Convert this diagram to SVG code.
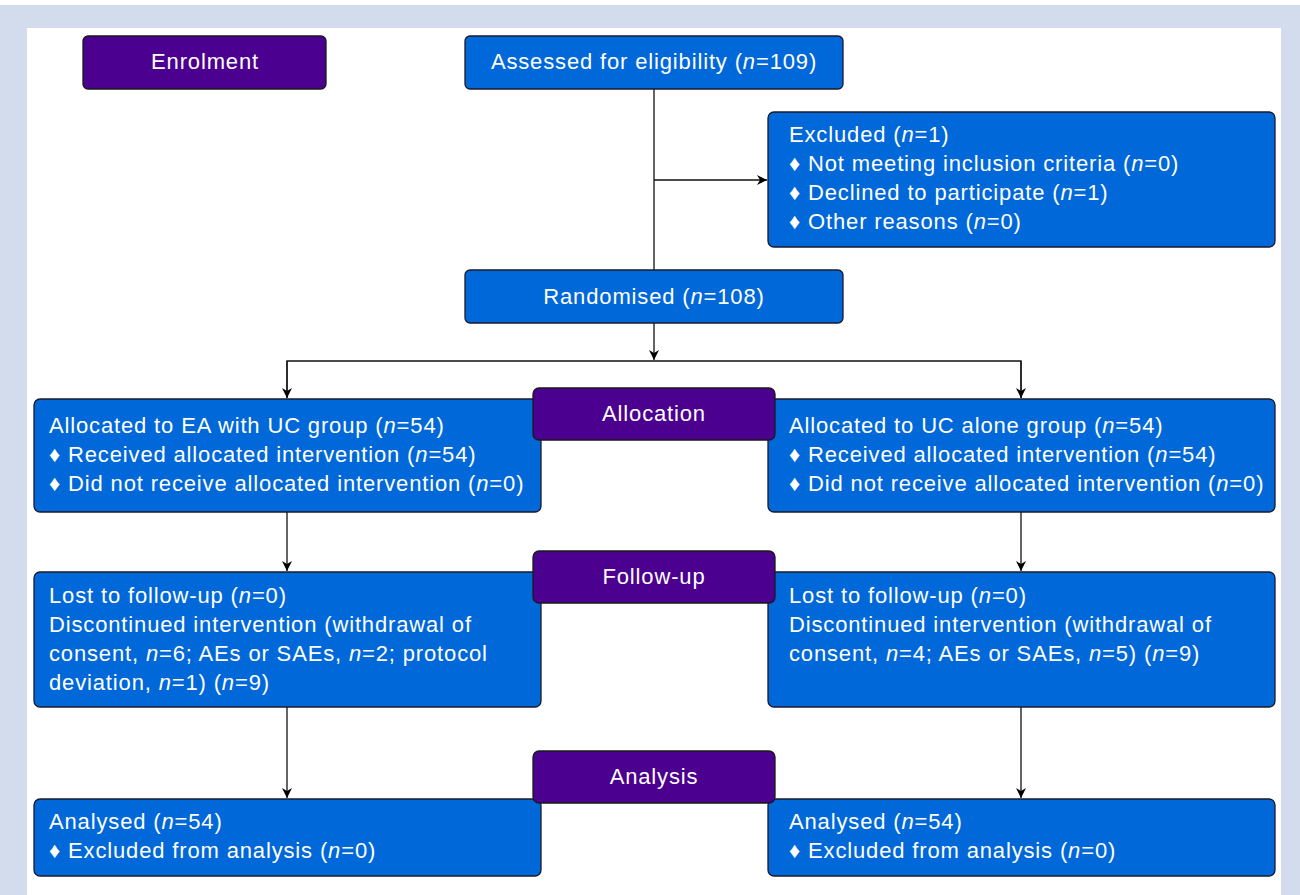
<svg xmlns="http://www.w3.org/2000/svg" width="1300" height="895" viewBox="0 0 1300 895">
<defs>
<style>
.bg{fill:#d3dced}
.blue{fill:#0068d9;stroke:#1a1a2e;stroke-width:1.3}
.purple{fill:#4b008f;stroke:#1a1a1a;stroke-width:1.3}
text{font-family:"Liberation Sans",Arial,sans-serif;font-size:22px;letter-spacing:0.85px;fill:#ffffff}
.c{text-anchor:middle}
.ln{fill:none;stroke:#111;stroke-width:1.3}
</style>
<marker id="ah" viewBox="0 0 10 10" refX="10" refY="5" markerWidth="10" markerHeight="10" markerUnits="userSpaceOnUse" orient="auto">
<path d="M0,0 L10,5 L0,10 L3,5 z" fill="#000"/>
</marker>
</defs>
<rect x="0" y="0" width="1300" height="895" fill="#ffffff"/>
<rect class="bg" x="0" y="5" width="1300" height="23"/>
<rect class="bg" x="0" y="5" width="27" height="890"/>
<rect class="bg" x="1281" y="5" width="19" height="890"/>

<g id="connectors">
<line class="ln" x1="654" y1="89" x2="654" y2="270"/>
<line class="ln" x1="654" y1="180" x2="767" y2="180" marker-end="url(#ah)"/>
<line class="ln" x1="654" y1="323" x2="654" y2="360" marker-end="url(#ah)"/>
<polyline class="ln" points="287,398 287,361 1021,361 1021,398" />
<line class="ln" x1="287" y1="361" x2="287" y2="398" marker-end="url(#ah)"/>
<line class="ln" x1="1021" y1="361" x2="1021" y2="398" marker-end="url(#ah)"/>
<line class="ln" x1="287" y1="512" x2="287" y2="571" marker-end="url(#ah)"/>
<line class="ln" x1="1021" y1="512" x2="1021" y2="571" marker-end="url(#ah)"/>
<line class="ln" x1="287" y1="707" x2="287" y2="798" marker-end="url(#ah)"/>
<line class="ln" x1="1021" y1="707" x2="1021" y2="798" marker-end="url(#ah)"/>
</g>

<g id="enrolment">
<rect class="purple" x="83" y="36" width="243" height="53" rx="5"/>
<text class="c" x="205" y="69">Enrolment</text>
</g>

<g id="assessed">
<rect class="blue" x="465" y="36" width="378" height="53" rx="5"/>
<text class="c" x="654" y="69">Assessed for eligibility (<tspan font-style="italic">n</tspan>=109)</text>
</g>

<g id="excluded">
<rect class="blue" x="768" y="112" width="507" height="135" rx="6"/>
<text x="789" y="142">Excluded (<tspan font-style="italic">n</tspan>=1)</text>
<text x="789" y="171">♦ Not meeting inclusion criteria (<tspan font-style="italic">n</tspan>=0)</text>
<text x="789" y="200">♦ Declined to participate (<tspan font-style="italic">n</tspan>=1)</text>
<text x="789" y="229">♦ Other reasons (<tspan font-style="italic">n</tspan>=0)</text>
</g>

<g id="randomised">
<rect class="blue" x="465" y="270" width="378" height="53" rx="5"/>
<text class="c" x="654" y="304">Randomised (<tspan font-style="italic">n</tspan>=108)</text>
</g>

<g id="alloc-left">
<rect class="blue" x="34" y="399" width="507" height="113" rx="6"/>
<text x="49" y="433">Allocated to EA with UC group (<tspan font-style="italic">n</tspan>=54)</text>
<text x="49" y="462">♦ Received allocated intervention (<tspan font-style="italic">n</tspan>=54)</text>
<text x="49" y="491">♦ Did not receive allocated intervention (<tspan font-style="italic">n</tspan>=0)</text>
</g>

<g id="alloc-right">
<rect class="blue" x="768" y="399" width="507" height="113" rx="6"/>
<text x="789" y="433">Allocated to UC alone group (<tspan font-style="italic">n</tspan>=54)</text>
<text x="789" y="462">♦ Received allocated intervention (<tspan font-style="italic">n</tspan>=54)</text>
<text x="789" y="491">♦ Did not receive allocated intervention (<tspan font-style="italic">n</tspan>=0)</text>
</g>

<g id="allocation">
<rect class="purple" x="533" y="388" width="242" height="52" rx="6"/>
<text class="c" x="654" y="421">Allocation</text>
</g>

<g id="follow-left">
<rect class="blue" x="34" y="572" width="507" height="135" rx="6"/>
<text x="49" y="603">Lost to follow-up (<tspan font-style="italic">n</tspan>=0)</text>
<text x="49" y="632">Discontinued intervention (withdrawal of</text>
<text x="49" y="661">consent, <tspan font-style="italic">n</tspan>=6; AEs or SAEs, <tspan font-style="italic">n</tspan>=2; protocol</text>
<text x="49" y="690">deviation, <tspan font-style="italic">n</tspan>=1) (<tspan font-style="italic">n</tspan>=9)</text>
</g>

<g id="follow-right">
<rect class="blue" x="768" y="572" width="507" height="135" rx="6"/>
<text x="789" y="603">Lost to follow-up (<tspan font-style="italic">n</tspan>=0)</text>
<text x="789" y="632">Discontinued intervention (withdrawal of</text>
<text x="789" y="661">consent, <tspan font-style="italic">n</tspan>=4; AEs or SAEs, <tspan font-style="italic">n</tspan>=5) (<tspan font-style="italic">n</tspan>=9)</text>
</g>

<g id="followup">
<rect class="purple" x="533" y="551" width="242" height="52" rx="6"/>
<text class="c" x="654" y="584">Follow-up</text>
</g>

<g id="analysed-left">
<rect class="blue" x="34" y="799" width="507" height="77" rx="6"/>
<text x="49" y="829">Analysed (<tspan font-style="italic">n</tspan>=54)</text>
<text x="49" y="858">♦ Excluded from analysis (<tspan font-style="italic">n</tspan>=0)</text>
</g>

<g id="analysed-right">
<rect class="blue" x="768" y="799" width="507" height="77" rx="6"/>
<text x="789" y="829">Analysed (<tspan font-style="italic">n</tspan>=54)</text>
<text x="789" y="858">♦ Excluded from analysis (<tspan font-style="italic">n</tspan>=0)</text>
</g>

<g id="analysis">
<rect class="purple" x="533" y="751" width="242" height="52" rx="6"/>
<text class="c" x="654" y="784">Analysis</text>
</g>
</svg>
